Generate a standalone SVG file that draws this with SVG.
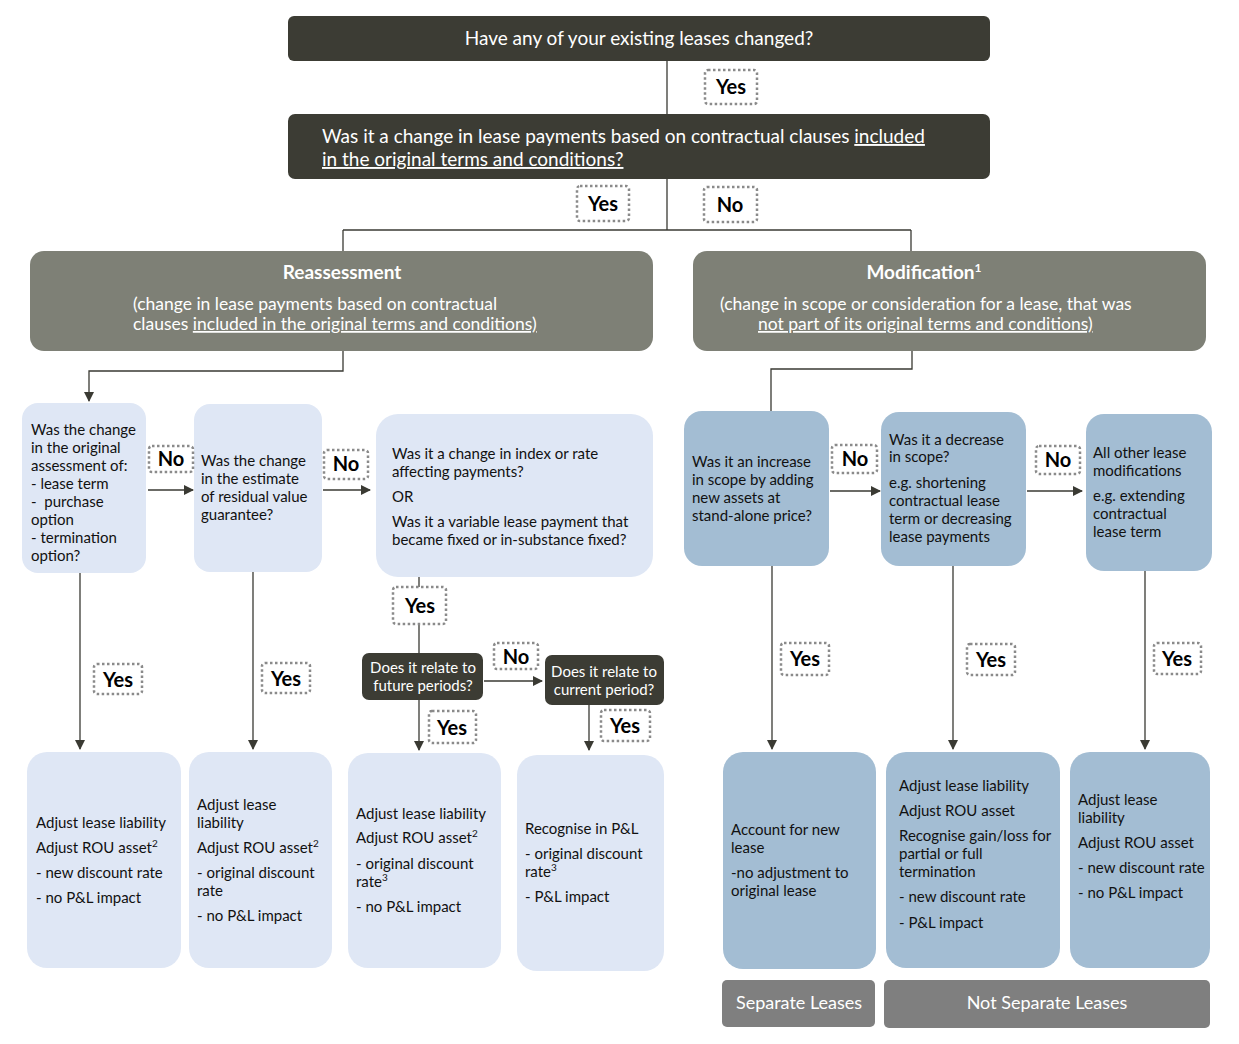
<svg xmlns="http://www.w3.org/2000/svg" width="1239" height="1044" viewBox="0 0 1239 1044">
<defs>
<marker id="ah" markerWidth="10" markerHeight="10" refX="9" refY="5" orient="auto" markerUnits="userSpaceOnUse">
<path d="M0,0 L10,5 L0,10 Z" fill="#3a3a33"/>
</marker>
<style>
text{font-family:Lato,"Open Sans","Liberation Sans",sans-serif;}
.dark{fill:#3c3c34;}
.mid{fill:#7e8076;}
.light{fill:#dfe7f5;}
.steel{fill:#a3bdd3;}
.gray{fill:#7f7f7f;}
.wt{fill:#ffffff;font-size:19px;}
.wb{fill:#ffffff;font-size:19px;font-weight:bold;}
.t{fill:#111111;font-size:15px;}
.ts{fill:#ffffff;font-size:15px;}
.sup{font-size:10px;}
.lbl{fill:#ffffff;stroke:#8a8a8a;stroke-width:2.5;stroke-dasharray:2.5 2.5;}
.lt{fill:#000000;font-size:20px;font-weight:bold;text-anchor:middle;}
.c{fill:none;stroke:#3a3a33;stroke-width:1.3;}
.u{text-decoration:underline;}
</style>
</defs>
<rect width="1239" height="1044" fill="#ffffff"/>

<g id="connectors">
<path class="c" d="M667,61 V114"/>
<path class="c" d="M667,179 V230"/>
<path class="c" d="M343,230 H911"/>
<path class="c" d="M343,230 V251"/>
<path class="c" d="M911,230 V251"/>
<path class="c" d="M343,351 V371 H89 V401" marker-end="url(#ah)"/>
<path class="c" d="M912,351 V369 H771 V411"/>
<path class="c" d="M148,490 H193" marker-end="url(#ah)"/>
<path class="c" d="M323,490 H370" marker-end="url(#ah)"/>
<path class="c" d="M830,491 H880" marker-end="url(#ah)"/>
<path class="c" d="M1027,491 H1082" marker-end="url(#ah)"/>
<path class="c" d="M80,573 V749" marker-end="url(#ah)"/>
<path class="c" d="M253,572 V749" marker-end="url(#ah)"/>
<path class="c" d="M419,577 V653"/>
<path class="c" d="M484,681 H542" marker-end="url(#ah)"/>
<path class="c" d="M419,700 V750" marker-end="url(#ah)"/>
<path class="c" d="M589,705 V750" marker-end="url(#ah)"/>
<path class="c" d="M772,566 V749" marker-end="url(#ah)"/>
<path class="c" d="M953,566 V749" marker-end="url(#ah)"/>
<path class="c" d="M1145,571 V749" marker-end="url(#ah)"/>
</g>

<g id="q-changed">
<rect class="dark" x="288" y="16" width="702" height="45" rx="6"/>
<text class="wt" x="639" y="45" text-anchor="middle">Have any of your existing leases changed?</text>
</g>

<g id="q-contractual">
<rect class="dark" x="288" y="114" width="702" height="65" rx="7"/>
<text class="wt" x="322" y="143">Was it a change in lease payments based on contractual clauses <tspan class="u">included</tspan></text>
<text class="wt" x="322" y="166"><tspan class="u">in the original terms and conditions?</tspan></text>
</g>

<g id="reassessment">
<rect class="mid" x="30" y="251" width="623" height="100" rx="14"/>
<text class="wb" x="342" y="279" text-anchor="middle">Reassessment</text>
<text class="wt" x="133" y="310" style="font-size:17.5px">(change in lease payments based on contractual</text>
<text class="wt" x="133" y="330" style="font-size:17.5px">clauses <tspan class="u">included in the original terms and conditions)</tspan></text>
</g>

<g id="modification">
<rect class="mid" x="693" y="251" width="513" height="100" rx="14"/>
<text class="wb" x="924" y="279" text-anchor="middle">Modification<tspan style="font-size:12px" dy="-7">1</tspan></text>
<text class="wt" x="720" y="310" style="font-size:17.5px">(change in scope or consideration for a lease, that was</text>
<text class="wt" x="758" y="330" style="font-size:17.5px"><tspan class="u">not part of its original terms and conditions)</tspan></text>
</g>

<g id="q-assessment">
<rect class="light" x="22" y="403" width="124" height="170" rx="16"/>
<text class="t" x="31" y="435">Was the change</text>
<text class="t" x="31" y="453">in the original</text>
<text class="t" x="31" y="471">assessment of:</text>
<text class="t" x="31" y="489">- lease term</text>
<text class="t" x="31" y="507" xml:space="preserve">-  purchase</text>
<text class="t" x="31" y="525">option</text>
<text class="t" x="31" y="543">- termination</text>
<text class="t" x="31" y="561">option?</text>
</g>

<g id="q-residual">
<rect class="light" x="194" y="404" width="128" height="168" rx="16"/>
<text class="t" x="201" y="466">Was the change</text>
<text class="t" x="201" y="484">in the estimate</text>
<text class="t" x="201" y="502">of residual value</text>
<text class="t" x="201" y="520">guarantee?</text>
</g>

<g id="q-index">
<rect class="light" x="376" y="414" width="277" height="163" rx="22"/>
<text class="t" x="392" y="459">Was it a change in index or rate</text>
<text class="t" x="392" y="477">affecting payments?</text>
<text class="t" x="392" y="502">OR</text>
<text class="t" x="392" y="527">Was it a variable lease payment that</text>
<text class="t" x="392" y="545">became fixed or in-substance fixed?</text>
</g>

<g id="q-increase">
<rect class="steel" x="684" y="411" width="145" height="155" rx="18"/>
<text class="t" x="692" y="467">Was it an increase</text>
<text class="t" x="692" y="485">in scope by adding</text>
<text class="t" x="692" y="503">new assets at</text>
<text class="t" x="692" y="521">stand-alone price?</text>
</g>

<g id="q-decrease">
<rect class="steel" x="881" y="412" width="145" height="154" rx="18"/>
<text class="t" x="889" y="445">Was it a decrease</text>
<text class="t" x="889" y="462">in scope?</text>
<text class="t" x="889" y="488">e.g. shortening</text>
<text class="t" x="889" y="506">contractual lease</text>
<text class="t" x="889" y="524">term or decreasing</text>
<text class="t" x="889" y="542">lease payments</text>
</g>

<g id="q-other">
<rect class="steel" x="1086" y="414" width="126" height="157" rx="18"/>
<text class="t" x="1093" y="458">All other lease</text>
<text class="t" x="1093" y="476">modifications</text>
<text class="t" x="1093" y="501">e.g. extending</text>
<text class="t" x="1093" y="519">contractual</text>
<text class="t" x="1093" y="537">lease term</text>
</g>

<g id="q-future">
<rect class="dark" x="362" y="653" width="121" height="47" rx="7"/>
<text class="ts" x="423" y="673" text-anchor="middle">Does it relate to</text>
<text class="ts" x="423" y="691" text-anchor="middle">future periods?</text>
</g>

<g id="q-current">
<rect class="dark" x="545" y="655" width="119" height="50" rx="7"/>
<text class="ts" x="604" y="677" text-anchor="middle">Does it relate to</text>
<text class="ts" x="604" y="695" text-anchor="middle">current period?</text>
</g>

<g id="r-assessment">
<rect class="light" x="27" y="752" width="154" height="216" rx="20"/>
<text class="t" x="36" y="828">Adjust lease liability</text>
<text class="t" x="36" y="853">Adjust ROU asset<tspan class="sup" dy="-6">2</tspan></text>
<text class="t" x="36" y="878">- new discount rate</text>
<text class="t" x="36" y="903">- no P&amp;L impact</text>
</g>

<g id="r-residual">
<rect class="light" x="189" y="752" width="143" height="216" rx="20"/>
<text class="t" x="197" y="810">Adjust lease</text>
<text class="t" x="197" y="828">liability</text>
<text class="t" x="197" y="853">Adjust ROU asset<tspan class="sup" dy="-6">2</tspan></text>
<text class="t" x="197" y="878">- original discount</text>
<text class="t" x="197" y="896">rate</text>
<text class="t" x="197" y="921">- no P&amp;L impact</text>
</g>

<g id="r-future">
<rect class="light" x="348" y="753" width="153" height="215" rx="20"/>
<text class="t" x="356" y="819">Adjust lease liability</text>
<text class="t" x="356" y="843">Adjust ROU asset<tspan class="sup" dy="-6">2</tspan></text>
<text class="t" x="356" y="869">- original discount</text>
<text class="t" x="356" y="887">rate<tspan class="sup" dy="-6">3</tspan></text>
<text class="t" x="356" y="912">- no P&amp;L impact</text>
</g>

<g id="r-current">
<rect class="light" x="517" y="755" width="147" height="216" rx="20"/>
<text class="t" x="525" y="834">Recognise in P&amp;L</text>
<text class="t" x="525" y="859">- original discount</text>
<text class="t" x="525" y="877">rate<tspan class="sup" dy="-6">3</tspan></text>
<text class="t" x="525" y="902">- P&amp;L impact</text>
</g>

<g id="r-increase">
<rect class="steel" x="723" y="752" width="153" height="217" rx="20"/>
<text class="t" x="731" y="835">Account for new</text>
<text class="t" x="731" y="853">lease</text>
<text class="t" x="731" y="878">-no adjustment to</text>
<text class="t" x="731" y="896">original lease</text>
</g>

<g id="r-decrease">
<rect class="steel" x="886" y="752" width="174" height="216" rx="20"/>
<text class="t" x="899" y="791">Adjust lease liability</text>
<text class="t" x="899" y="816">Adjust ROU asset</text>
<text class="t" x="899" y="841">Recognise gain/loss for</text>
<text class="t" x="899" y="859">partial or full</text>
<text class="t" x="899" y="877">termination</text>
<text class="t" x="899" y="902">- new discount rate</text>
<text class="t" x="899" y="928">- P&amp;L impact</text>
</g>

<g id="r-other">
<rect class="steel" x="1070" y="752" width="140" height="216" rx="20"/>
<text class="t" x="1078" y="805">Adjust lease</text>
<text class="t" x="1078" y="823">liability</text>
<text class="t" x="1078" y="848">Adjust ROU asset</text>
<text class="t" x="1078" y="873">- new discount rate</text>
<text class="t" x="1078" y="898">- no P&amp;L impact</text>
</g>

<g id="separate">
<rect class="gray" x="722" y="980" width="153" height="47" rx="5"/>
<text class="wt" x="799" y="1009" text-anchor="middle" style="font-size:18px">Separate Leases</text>
</g>

<g id="not-separate">
<rect class="gray" x="884" y="980" width="326" height="48" rx="5"/>
<text class="wt" x="1047" y="1009" text-anchor="middle" style="font-size:18px">Not Separate Leases</text>
</g>

<g id="labels">
<rect class="lbl" x="705" y="70" width="52" height="34" rx="3"/><text class="lt" x="731" y="94">Yes</text>
<rect class="lbl" x="577" y="186" width="52" height="35" rx="3"/><text class="lt" x="603" y="211">Yes</text>
<rect class="lbl" x="704" y="187" width="53" height="35" rx="3"/><text class="lt" x="730" y="212">No</text>
<rect class="lbl" x="149" y="446" width="44" height="26" rx="3"/><text class="lt" x="171" y="466">No</text>
<rect class="lbl" x="324" y="450" width="44" height="29" rx="3"/><text class="lt" x="346" y="471">No</text>
<rect class="lbl" x="832" y="445" width="45" height="28" rx="3"/><text class="lt" x="855" y="466">No</text>
<rect class="lbl" x="1036" y="446" width="44" height="28" rx="3"/><text class="lt" x="1058" y="467">No</text>
<rect class="lbl" x="94" y="664" width="48" height="30" rx="3"/><text class="lt" x="118" y="687">Yes</text>
<rect class="lbl" x="262" y="663" width="48" height="30" rx="3"/><text class="lt" x="286" y="686">Yes</text>
<rect class="lbl" x="393" y="587" width="53" height="37" rx="3"/><text class="lt" x="420" y="613">Yes</text>
<rect class="lbl" x="494" y="643" width="44" height="26" rx="3"/><text class="lt" x="516" y="664">No</text>
<rect class="lbl" x="429" y="711" width="47" height="32" rx="3"/><text class="lt" x="452" y="735">Yes</text>
<rect class="lbl" x="601" y="710" width="49" height="31" rx="3"/><text class="lt" x="625" y="733">Yes</text>
<rect class="lbl" x="781" y="643" width="48" height="32" rx="3"/><text class="lt" x="805" y="666">Yes</text>
<rect class="lbl" x="967" y="644" width="48" height="31" rx="3"/><text class="lt" x="991" y="667">Yes</text>
<rect class="lbl" x="1154" y="643" width="47" height="31" rx="3"/><text class="lt" x="1177" y="666">Yes</text>
</g>
</svg>
